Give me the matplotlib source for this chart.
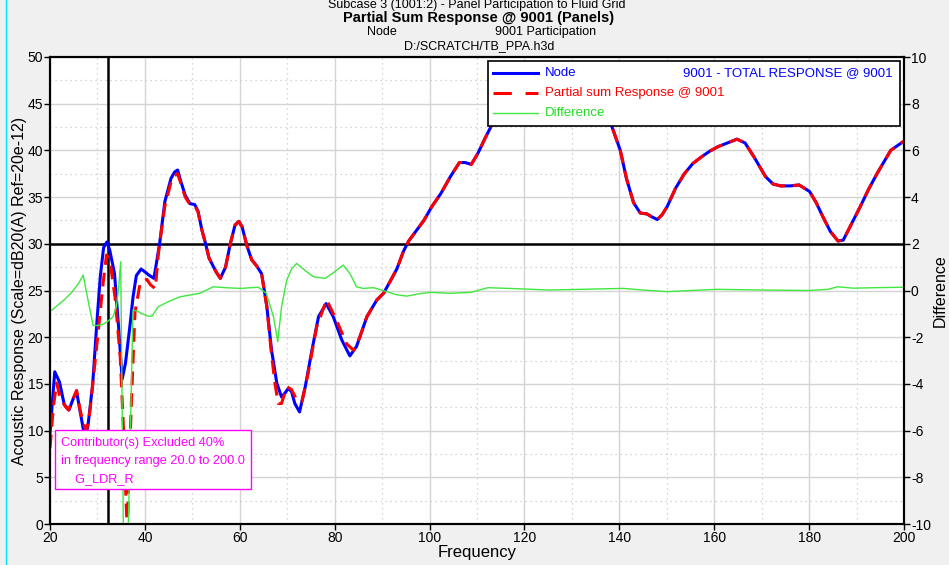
import matplotlib
matplotlib.use("Agg")
import matplotlib.pyplot as plt
from matplotlib.lines import Line2D
from matplotlib.patches import Rectangle
from matplotlib.ticker import MultipleLocator

plt.rcParams['font.family'] = ['Liberation Sans', 'DejaVu Sans']
plt.rcParams['axes.unicode_minus'] = False

# ---------------- data ----------------
node_freq = [20, 21.0, 22.0, 23.0, 24.0, 24.8, 25.6, 26.3, 27.0, 27.6, 28.0, 29.0, 29.8, 30.6,
             31.3, 32.0, 32.6, 33.6, 34.5, 35.2, 35.9, 36.8, 37.5, 38.2, 39.2, 40.0, 40.7, 41.9,
             43.1, 44.2, 45.5, 46.3, 46.9, 47.5, 48.5, 49.5, 50.5, 51.2, 52.0, 52.8, 53.5, 54.2,
             55.0, 55.9, 57.0, 58.0, 59.0, 59.8, 60.5, 61.5, 62.5, 63.6, 64.6, 65.7, 66.7, 67.8,
             68.8, 69.5, 70.2, 70.9, 71.6, 72.6, 73.8, 75.2, 76.6, 78.2, 79.7, 81.5, 83.2, 84.6,
             86.8, 88.9, 90.3, 91.5, 93.1, 94.5, 95.6, 97.2, 98.8, 100.5, 102.4, 104.4, 106.3,
             107.5, 108.8, 110.2, 111.7, 113.1, 115, 118, 121, 124, 127, 130, 133, 136, 138.4,
             140.2, 141.5, 143.0, 144.4, 145.8, 146.8, 148.0, 149.0, 150.1, 151.8, 153.7, 155.5,
             157.3, 159.0, 160.8, 162.8, 164.8, 166.5, 168.5, 170.8, 172.4, 174.0, 176.0, 177.9,
             180.1, 181.5, 182.9, 184.5, 186.1, 187.2, 189.0, 190.8, 192.5, 194.3, 197.2, 200]
node_resp = [9.7, 16.3, 15.2, 12.8, 12.2, 13.3, 14.2, 12.2, 10.2, 9.6, 10.5, 15.0, 21.0, 26.5,
             29.6, 30.2, 29.3, 26.8, 20.8, 15.5, 17.2, 21.0, 24.3, 26.6, 27.3, 27.0, 26.7, 26.3,
             30.0, 34.5, 37.0, 37.7, 37.9, 36.8, 35.2, 34.3, 34.2, 33.5, 31.5, 30.0, 28.5, 27.8,
             27.0, 26.3, 27.5, 30.0, 32.0, 32.4, 31.8, 29.8, 28.3, 27.6, 26.8, 23.3, 18.6, 15.1,
             13.6, 14.0, 14.5, 14.2, 12.9, 12.0, 14.7, 18.6, 22.2, 23.6, 22.2, 19.7, 18.0, 19.0,
             22.2, 24.0, 24.7, 25.8, 27.3, 29.2, 30.3, 31.4, 32.5, 34.0, 35.4, 37.2, 38.7,
             38.7, 38.5, 39.7, 41.3, 42.7, 44.8, 47.0, 47.8, 47.3, 46.4, 46.6, 46.5, 45.0, 42.6,
             40.0, 37.0, 34.4, 33.3, 33.2, 32.9, 32.6, 33.1, 34.0, 35.9, 37.5, 38.6,
             39.3, 39.9, 40.4, 40.8, 41.2, 40.8, 39.2, 37.2, 36.4, 36.2, 36.2, 36.3,
             35.6, 34.4, 32.9, 31.3, 30.3, 30.4, 32.2, 34.0, 35.8, 37.5, 40.0, 41.0]

partial_freq = [20, 20.7, 21.4, 22.1, 23.2, 23.9, 24.8, 25.6, 26.3, 27.0, 27.7, 28.4, 29.1, 30.2,
                31.2, 31.9, 32.6, 33.7, 34.8, 35.5, 36.0, 36.2, 36.4, 36.7, 37.2, 37.9, 39.0, 40.4,
                41.2, 42.2, 42.8, 43.1, 44.2, 45.5, 46.3, 46.9, 47.5, 48.5, 49.5, 50.5, 51.2, 52.0,
                52.8, 53.5, 54.2, 55.0, 55.9, 57.0, 58.0, 59.0, 59.8, 60.5, 61.5, 62.5, 63.6, 64.6,
                65.7, 66.6, 67.4, 68.1, 68.8, 69.9, 70.9, 72.0, 73.1, 74.4, 76.2, 78.3, 80.4, 82.5,
                84.0, 85.3, 86.8, 88.9, 90.3, 91.5, 93.1, 94.5, 95.6, 97.2, 98.8, 100.5, 102.4, 104.4,
                106.3, 107.5, 108.8, 110.2, 111.7, 113.1, 115, 118, 121, 124, 127, 130, 133, 136,
                138.4, 140.2, 141.5, 143.0, 144.4, 145.8, 146.8, 148.0, 149.0, 150.1, 151.8, 153.7,
                155.5, 157.3, 159.0, 160.8, 162.8, 164.8, 166.5, 168.5, 170.8, 172.4, 174.0, 176.0,
                177.9, 180.1, 181.5, 182.9, 184.5, 186.1, 187.2, 189.0, 190.8, 192.5, 194.3, 197.2, 200]
partial_resp = [8.1, 12.5, 15.1, 13.6, 12.6, 12.2, 13.3, 14.3, 12.3, 10.8, 10.0, 12.0, 15.4, 20.8,
                25.8, 28.8, 28.3, 24.3, 17.9, 10.0, 2.9, 0.4, 1.0, 6.5, 13.6, 22.6, 25.8, 26.2,
                25.6, 25.2, 28.7, 30.0, 34.0, 36.6, 37.3, 37.5, 36.6, 35.0, 34.2, 34.1, 33.4, 31.5,
                30.0, 28.5, 27.8, 27.0, 26.3, 27.5, 30.0, 32.0, 32.4, 31.8, 29.8, 28.3, 27.6, 26.8,
                23.3, 18.6, 15.1, 12.9, 12.9, 14.7, 14.4, 13.3, 13.1, 16.1, 21.1, 24.0, 21.8, 19.3,
                18.6, 20.0, 22.2, 24.0, 24.7, 25.8, 27.3, 29.2, 30.3, 31.4, 32.5, 34.0, 35.4, 37.2,
                38.7, 38.7, 38.5, 39.7, 41.3, 42.7, 44.8, 47.0, 47.8, 47.3, 46.4, 46.6, 46.5, 45.0,
                42.6, 40.0, 37.0, 34.4, 33.3, 33.2, 32.9, 32.6, 33.1, 34.0, 35.9, 37.5,
                38.6, 39.3, 39.9, 40.4, 40.8, 41.2, 40.8, 39.2, 37.2, 36.4, 36.2, 36.2,
                36.3, 35.6, 34.4, 32.9, 31.3, 30.3, 30.4, 32.2, 34.0, 35.8, 37.5, 40.0, 41.0]

diff_freq = [20, 21.5, 23.0, 24.5, 26.0, 27.0, 28.0, 29.1, 30.0, 31.2, 32.3, 33.3, 34.0, 34.5,
             34.9, 35.5, 36.4, 37.5, 38.5, 39.5, 40.7, 41.5, 42.8, 44.9, 47.4, 51.6, 54.4, 57.0,
             60.1, 63.9, 65.6, 67.1, 68.0, 68.8, 69.9, 71.0, 72.0, 73.5, 75.5, 78.0, 80.0, 81.8,
             83.3, 84.6, 86.0, 88.2, 91.0, 93.0, 95.2, 97.5, 100.1, 104.3, 108.7, 112.3, 118.0,
             125.2, 132.0, 140.8, 145.0, 150.1, 155.0, 160.6, 170.0, 180.0, 184.0, 186.0, 189.3,
             194.0, 200]
diff_vals = [-0.91, -0.65, -0.4, -0.1, 0.3, 0.66, -0.4, -1.5, -1.5, -1.45, -1.3, -1.12, -0.69, 0.2,
             1.23, -11.0, -11.0, -0.83, -0.9, -1.0, -1.1, -1.1, -0.7, -0.48, -0.27, -0.12, 0.16, 0.12,
             0.09, 0.14, -0.12, -1.12, -2.19, -0.7, 0.45, 0.95, 1.16, 0.9, 0.59, 0.52, 0.8, 1.09,
             0.7, 0.16, 0.09, 0.12, -0.05, -0.18, -0.24, -0.15, -0.08, -0.12, -0.08, 0.12, 0.08,
             0.02, 0.05, 0.09, 0.02, -0.05, 0.0, 0.05, 0.02, 0.0, 0.05, 0.16, 0.1,
             0.12, 0.14]

cursor_freq = 32.3
cursor_level = 30

x_ticks = [20, 40, 60, 80, 100, 120, 140, 160, 180, 200]
y_ticks = [0, 5, 10, 15, 20, 25, 30, 35, 40, 45, 50]
y2_ticks = [-10, -8, -6, -4, -2, 0, 2, 4, 6, 8, 10]

legend_labels = ["Node", "Partial sum Response @ 9001", "Difference"]
legend_extra = "9001 - TOTAL RESPONSE @ 9001"
note_lines = ["Contributor(s) Excluded 40%", "in frequency range 20.0 to 200.0", "    G_LDR_R"]

# ---------------- figure ----------------
BLUE = '#0000ff'
RED = '#ff0000'
GREEN = '#3ee83e'
MAG = '#ff00ff'

fig = plt.figure(figsize=(9.49, 5.65), dpi=100, facecolor='#f0f0f0')
ax = fig.add_axes([50/949, 1-524/565, 854/949, 467/565])
ax.set_facecolor('white')
ax2 = ax.twinx()
ax2.patch.set_visible(False)

ax.set_xlim(20, 200)
ax.set_ylim(0, 50)
ax2.set_ylim(-10, 10)

ax.set_xticks(x_ticks)
ax.set_yticks(y_ticks)
ax2.set_yticks(y2_ticks)
ax.xaxis.set_minor_locator(MultipleLocator(10))
ax.yaxis.set_minor_locator(MultipleLocator(2.5))
ax.grid(True, which='major', color='#d4d4d4', lw=1.0)
ax.grid(True, which='minor', color='#c8c8c8', lw=0.9, ls=(0, (1, 3)))
ax.tick_params(which='minor', length=0)
ax.set_axisbelow(True)

ax.tick_params(axis='both', which='major', direction='out', length=4, width=1,
               labelsize=10, colors='black', pad=1)
ax2.tick_params(axis='y', which='major', direction='out', length=4, width=1,
                labelsize=10, colors='black', pad=1)
for a in (ax, ax2):
    for s in a.spines.values():
        s.set_color('black')
        s.set_linewidth(1.5)

# cursor lines
ax.axvline(cursor_freq, color='black', lw=1.8, zorder=1.5)
ax.axhline(cursor_level, color='black', lw=1.8, zorder=1.5)

ax.plot(node_freq, node_resp, color=BLUE, lw=2.2, zorder=3)
ax.plot(partial_freq, partial_resp, color=RED, lw=2.2, dashes=(4.5, 2.6), zorder=4)
ax2.plot(diff_freq, diff_vals, color=GREEN, lw=1.0, zorder=2)

ax.set_xlabel("Frequency", fontsize=12, labelpad=0)
ax.set_ylabel("Acoustic Response (Scale=dB20(A) Ref=20e-12)", fontsize=11.5, va='center')
ax.yaxis.set_label_coords(-30/854, 0.5)
ax2.set_ylabel("Difference", fontsize=11.5, va='center')
ax2.yaxis.set_label_coords((940-50)/854, 0.5)

# legend box (manual)
T = ax2.transAxes
ax2.add_patch(Rectangle((0.5129, 0.8522), 0.4824, 0.1392, transform=T, facecolor='white',
                        edgecolor='black', lw=1.2, zorder=10, clip_on=False))
rows = [0.9657, 0.9229, 0.8801]
styles = [dict(color=BLUE, lw=2.2), dict(color=RED, lw=2.2, dashes=(6, 4.5)),
          dict(color=GREEN, lw=1.0)]
cols = [BLUE, RED, '#22dd22']
for yy, st, lab, c in zip(rows, styles, legend_labels, cols):
    ax2.add_line(Line2D([0.5187, 0.5714], [yy, yy], transform=T, zorder=11, **st))
    ax2.text(0.5796, yy, lab, transform=T, color=c, fontsize=9.5, va='center', ha='left', zorder=12)
ax2.text(0.9871, rows[0], legend_extra, transform=T, color=BLUE, fontsize=9.5,
         va='center', ha='right', zorder=12)

# annotation box
ax2.add_patch(Rectangle((0.00585, 0.0749), 0.2296, 0.1264, transform=T, facecolor='white',
                        edgecolor=MAG, lw=1.0, zorder=10))
for i, line in enumerate(note_lines):
    ax2.text(11/854, (524-443-18*i)/467, line, transform=T, color=MAG, fontsize=9.2,
             va='center', ha='left', zorder=12)

# titles
fig.text(477/949, 1-5/565, "Subcase 3 (1001:2) - Panel Participation to Fluid Grid",
         ha='center', va='center', fontsize=9)
fig.text(479/949, 1-18/565, "Partial Sum Response @ 9001 (Panels)", ha='center', va='center',
         fontsize=10.5, fontweight='bold')
fig.text(382/949, 1-32/565, "Node", ha='center', va='center', fontsize=9)
fig.text(546/949, 1-32/565, "9001 Participation", ha='center', va='center', fontsize=9)
fig.text(479/949, 1-46/565, "D:/SCRATCH/TB_PPA.h3d", ha='center', va='center', fontsize=9)

fig.add_artist(Line2D([6/949, 6/949], [0, 1], color='#00e5ff', lw=1.0))

fig.savefig("out.png", dpi=100, facecolor=fig.get_facecolor())
